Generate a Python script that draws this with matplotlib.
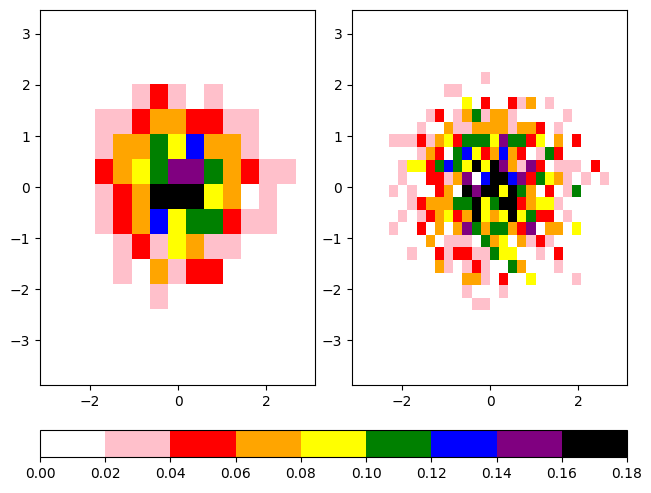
import numpy as np
import matplotlib
matplotlib.use('Agg')
import matplotlib.pyplot as plt
from matplotlib.colors import ListedColormap, BoundaryNorm

# colour letters -> level index
CODES = 'WPROYGBUK'
COLORS = ['white', 'pink', 'red', 'orange', 'yellow', 'green', 'blue', 'purple', 'black']
LEVELS = np.arange(0, 0.19, 0.02)

# coarse histogram, rows top -> bottom
LEFT_ROWS = [
    "WWPRPWPWWWW",
    "PPROORRPPWW",
    "POOGYBOOPWW",
    "ROYGUUGORPP",
    "PROKKKYOWPW",
    "PROBYGGRPPW",
    "WPRPYOPPWWW",
    "WPWOPRRWWWW",
    "WWWPWWWWWWW",
]
LEFT_X = (-1.886, 0.414)   # first edge, bin width
LEFT_Y = (2.02, 0.49)      # top edge, bin height

# fine histogram, rows top -> bottom
RIGHT_ROWS = [
    "WWWWWWWWWWPWWWWWWWWWWWWW",
    "WWWWWWPPWWWWWWWWWWWWWWWW",
    "WWWWWWWWYWRWWRPOWPWWWWWW",
    "WWWWPRWPOGPOOPWWWWWPWWWW",
    "WWWPWWOPPOOOOPOORWPWWWWW",
    "PPPRPOYRGGGYUGGRYWOWRWWW",
    "WWWPORWGBYROBORWPGRWWWWW",
    "WPYYRGBGYKYKUOPURWPPPWRW",
    "WPWWRRPOUWBKKBURGYOPWPWP",
    "PWPWWROWKUKKYKGOWRWPGWWW",
    "WWPROOOGGKYGKKROYYPWWWWW",
    "WPWPROYROKYOYKYGRRWPWWWW",
    "PWWRWOWOUGOGGORUWOOWYWWW",
    "WWWWOWPPPWGOYWOPRPWWWWWW",
    "WWPWWRPRRPPGYYWWPWRWWWWW",
    "WWWWWOPWPRPWWGOWWWPWWWWW",
    "WWWWWWWWOOPWRWWYWWWWPWWW",
    "WWWWWWWWPWWWPWWWWWWWWWWW",
    "WWWWWWWWWPPWWWWWWWWWWWWW",
]
RIGHT_X = (-2.295, 0.208)
RIGHT_Y = (2.26, 0.246)


def grid_values(rows):
    idx = np.array([[CODES.index(c) for c in r] for r in rows], dtype=float)
    return idx * 0.02 + 0.01


cmap = ListedColormap(COLORS)
norm = BoundaryNorm(LEVELS, cmap.N)

fig = plt.figure(figsize=(6.51, 4.93), dpi=100)
ax1 = fig.add_axes([40 / 651, 1 - 385 / 493, 275 / 651, 375 / 493])
ax2 = fig.add_axes([352 / 651, 1 - 385 / 493, 275 / 651, 375 / 493])
cax = fig.add_axes([40 / 651, 1 - 457 / 493, 587 / 651, 27 / 493])

for ax, rows, (x0, dx), (y0, dy) in [(ax1, LEFT_ROWS, LEFT_X, LEFT_Y),
                                     (ax2, RIGHT_ROWS, RIGHT_X, RIGHT_Y)]:
    vals = grid_values(rows)
    ny, nx = vals.shape
    xe = x0 + dx * np.arange(nx + 1)
    ye = y0 - dy * np.arange(ny + 1)
    m = ax.pcolormesh(xe, ye, vals, cmap=cmap, norm=norm)
    ax.set_xlim(-3.14, 3.11)
    ax.set_ylim(-3.88, 3.47)
    ax.set_xticks([-2, 0, 2])
    ax.set_yticks([-3, -2, -1, 0, 1, 2, 3])

cb = fig.colorbar(m, cax=cax, orientation='horizontal', ticks=LEVELS)
cb.ax.set_xticklabels([f'{v:.2f}' for v in LEVELS])

plt.savefig('out.png', dpi=100)
